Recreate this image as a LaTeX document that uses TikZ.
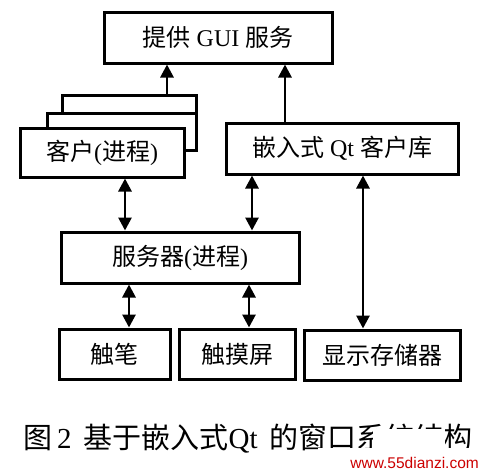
\documentclass[tikz,border=0pt]{standalone}
\usepackage{fontspec}
\setmainfont{Liberation Serif}
\newfontfamily\cjk{Noto Sans CJK SC}
\newfontfamily\wmfont{Liberation Sans}
\usetikzlibrary{arrows.meta}
\tikzset{
  box/.style={draw, line width=3pt, fill=white, inner sep=0pt,
    font=\fontsize{24}{28}\selectfont},
  arr/.style={line width=2.8pt, -{Triangle[length=13pt,width=13pt]}},
  darr/.style={line width=2.8pt, {Triangle[length=13pt,width=13pt]}-{Triangle[length=13pt,width=13pt]}},
}
\begin{document}
\begin{tikzpicture}[x=1pt,y=-1pt]
\useasboundingbox[fill=white] (0,0) rectangle (484,471);
% top
\node[box, minimum width=228pt, minimum height=51pt] (top) at (218,37.5) {{\cjk 提供} GUI {\cjk 服务}};
% stacked clients
\node[box, minimum width=134pt, minimum height=55pt] (back1) at (129,122.5) {};
\node[box, minimum width=149pt, minimum height=37pt] (back2) at (121.5,131.5) {};
\node[box, minimum width=164pt, minimum height=49pt] (client) at (102,152.5) {{\cjk 客户}({\cjk 进程})};
% library
\node[box, minimum width=232pt, minimum height=51pt] (lib) at (342,148.5) {{\cjk 嵌入式} Qt {\cjk 客户库}};
% server
\node[box, minimum width=238pt, minimum height=51pt] (server) at (180,257.5) {{\cjk 服务器}({\cjk 进程})};
% bottom row
\node[box, minimum width=111pt, minimum height=50pt] (pen) at (114.5,354) {\cjk 触笔};
\node[box, minimum width=116pt, minimum height=50pt] (touch) at (237,354) {\cjk 触摸屏};
\node[box, minimum width=156pt, minimum height=50pt] (disp) at (382,355) {\cjk 显示存储器};
% x positions of connectors
\coordinate (c1) at (167,0);
\coordinate (c2) at (285,0);
\coordinate (c3) at (125,0);
\coordinate (c4) at (252,0);
\coordinate (c5) at (363,0);
\coordinate (c6) at (129,0);
\coordinate (c7) at (249,0);
% connectors
\draw[arr] (back1.north -| c1) -- (top.south -| c1);
\draw[arr] (lib.north -| c2) -- (top.south -| c2);
\draw[darr] (client.south -| c3) -- (server.north -| c3);
\draw[darr] (lib.south -| c4) -- (server.north -| c4);
\draw[darr] (lib.south -| c5) -- (disp.north -| c5);
\draw[darr] (server.south -| c6) -- (pen.north -| c6);
\draw[darr] (server.south -| c7) -- (touch.north -| c7);
% caption
\node[font=\fontsize{29}{33}\selectfont, inner sep=0pt] (cap) at (248,439)
  {{\cjk 图}\,2\, {\cjk 基于嵌入式}Qt\, {\cjk 的窗口系统结构}};
% watermark patch
\fill[white] (373,429) rectangle (445,471);
\fill[white] (318,448) rectangle (484,471);
\node[font=\wmfont\fontsize{15.5}{18}\selectfont, text=red!80!black, inner sep=0pt, anchor=east] (wm) at (479,463) {www.55dianzi.com};
\end{tikzpicture}
\end{document}
